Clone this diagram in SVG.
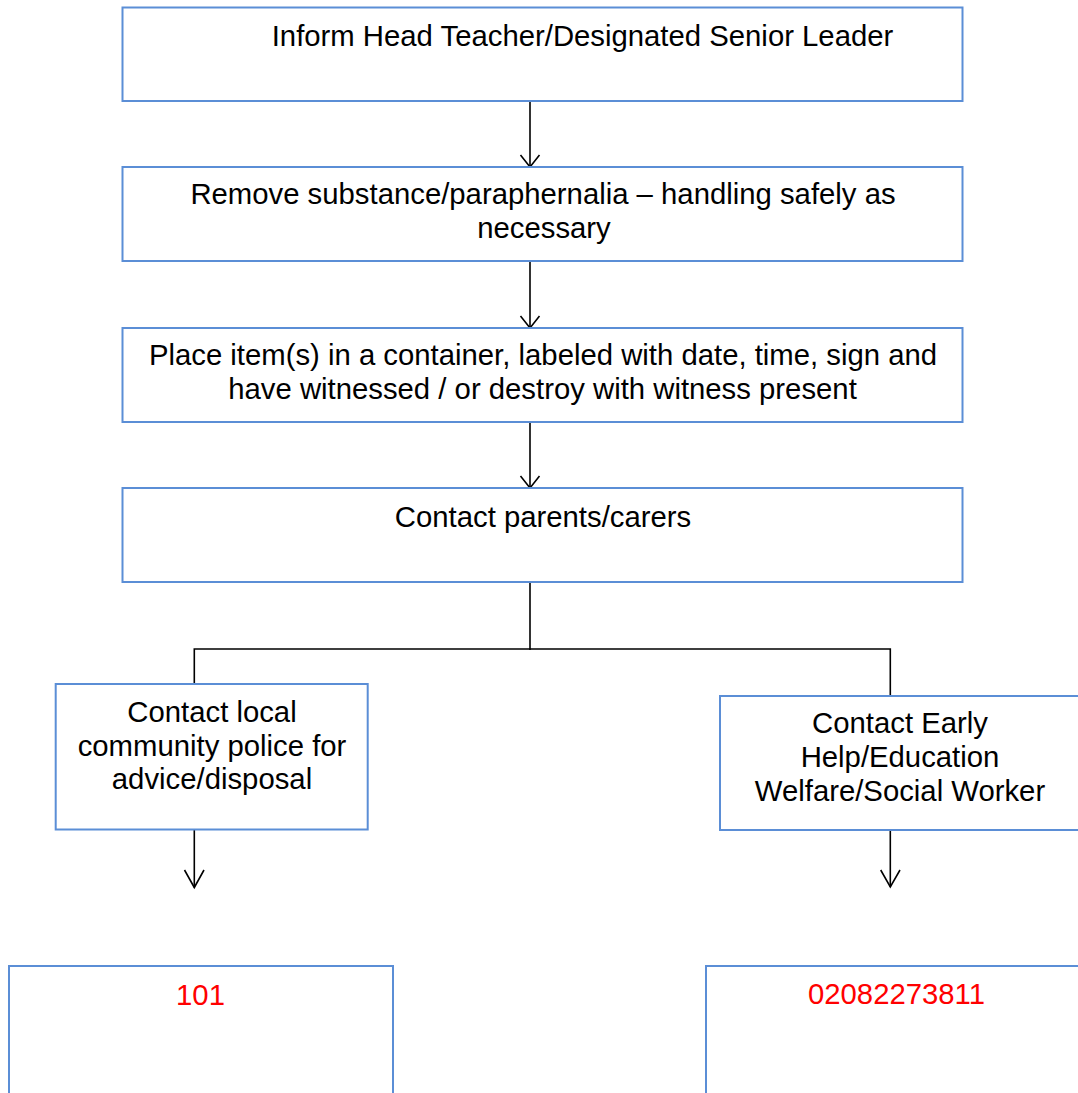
<svg xmlns="http://www.w3.org/2000/svg" width="1078" height="1093" viewBox="0 0 1078 1093">
<style>
  .box { fill: #ffffff; stroke: #5b8ed6; stroke-width: 2; }
  .t { font-family: "Liberation Sans", Arial, sans-serif; font-size: 29.3px; fill: #000000; text-anchor: middle; }
  .red { fill: #ff0000; }
  .ln { fill: none; stroke: #000000; stroke-width: 1.6; }
</style>
<rect width="1078" height="1093" fill="#ffffff"/>

<g id="connectors">
  <line class="ln" x1="530" y1="101" x2="530" y2="167"/>
  <polyline class="ln" points="520.5,155 530,167 539.5,155"/>
  <line class="ln" x1="530" y1="261" x2="530" y2="328"/>
  <polyline class="ln" points="520.5,316 530,328 539.5,316"/>
  <line class="ln" x1="530" y1="422" x2="530" y2="488"/>
  <polyline class="ln" points="520.5,476 530,488 539.5,476"/>
  <line class="ln" x1="530" y1="582" x2="530" y2="650"/>
  <polyline class="ln" points="194.3,684 194.3,649 890.3,649 890.3,696"/>
  <line class="ln" x1="194.3" y1="830" x2="194.3" y2="887.5"/>
  <polyline class="ln" points="184.5,870 194.3,887.5 204,870"/>
  <line class="ln" x1="890.3" y1="830" x2="890.3" y2="887"/>
  <polyline class="ln" points="880.7,870 890.3,887 900,870"/>
</g>

<g id="n1">
  <rect class="box" x="122.5" y="7.5" width="840" height="93.5"/>
  <text class="t" x="582.5" y="45.5">Inform Head Teacher/Designated Senior Leader</text>
</g>
<g id="n2">
  <rect class="box" x="122.5" y="167" width="840" height="94"/>
  <text class="t" x="543" y="204">Remove substance/paraphernalia – handling safely as</text>
  <text class="t" x="544" y="237.5">necessary</text>
</g>
<g id="n3">
  <rect class="box" x="122.5" y="328" width="840" height="94"/>
  <text class="t" x="543" y="365">Place item(s) in a container, labeled with date, time, sign and</text>
  <text class="t" x="542.5" y="399">have witnessed / or destroy with witness present</text>
</g>
<g id="n4">
  <rect class="box" x="122.5" y="488" width="840" height="94"/>
  <text class="t" x="543" y="527">Contact parents/carers</text>
</g>
<g id="n5">
  <rect class="box" x="55.7" y="684" width="312" height="145.5"/>
  <text class="t" x="212" y="722">Contact local</text>
  <text class="t" x="212" y="755.5">community police for</text>
  <text class="t" x="212" y="789">advice/disposal</text>
</g>
<g id="n6">
  <rect class="box" x="720" y="696" width="380" height="134"/>
  <text class="t" x="900" y="733">Contact Early</text>
  <text class="t" x="900" y="767">Help/Education</text>
  <text class="t" x="900" y="800.5">Welfare/Social Worker</text>
</g>
<g id="n7">
  <rect class="box" x="9" y="966" width="384" height="150"/>
  <text class="t red" x="200.5" y="1005">101</text>
</g>
<g id="n8">
  <rect class="box" x="706" y="966" width="400" height="150"/>
  <text class="t red" x="896.5" y="1004">02082273811</text>
</g>
</svg>
